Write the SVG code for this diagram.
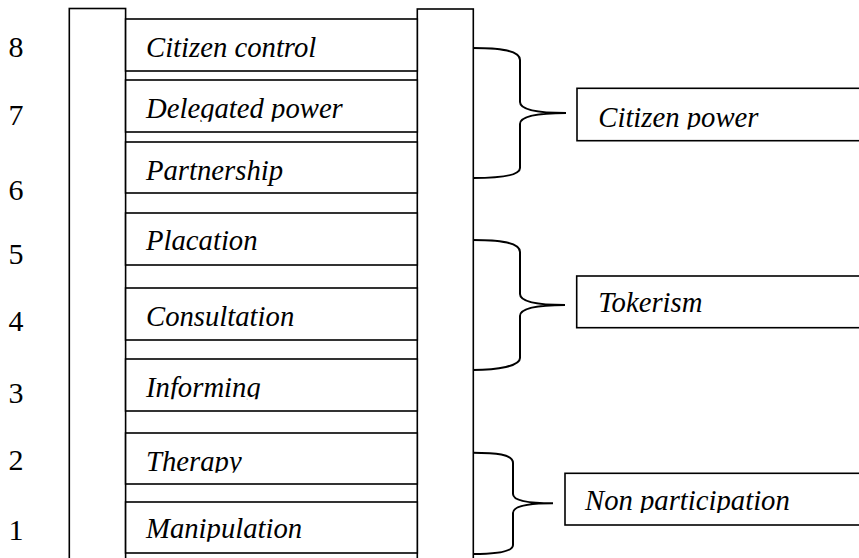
<svg xmlns="http://www.w3.org/2000/svg" width="859" height="558" viewBox="0 0 859 558">
<style>
  .ln { fill: #fff; stroke: #000; stroke-width: 1.6; }
  .brace { fill: none; stroke: #000; stroke-width: 2; }
  .lbl { font-family: "Liberation Serif", "Times New Roman", serif; font-style: italic; font-size: 28.7px; fill: #000; }
  .num { font-family: "Liberation Serif", "Times New Roman", serif; font-size: 30px; fill: #000; }
</style>
<defs>
  <clipPath id="cDel"><rect x="0" y="0" width="859" height="121.7"/></clipPath>
  <clipPath id="cInf"><rect x="0" y="0" width="859" height="399.3"/></clipPath>
  <clipPath id="cThe"><rect x="0" y="0" width="859" height="472.7"/></clipPath>
  <clipPath id="cMan"><rect x="0" y="0" width="859" height="541.7"/></clipPath>
  <clipPath id="cCp"><rect x="0" y="0" width="859" height="129.5"/></clipPath>
  <clipPath id="cNp"><rect x="0" y="0" width="859" height="513"/></clipPath>
</defs>
<rect width="859" height="558" fill="#fff"/>

<g id="numbers">
  <text class="num" x="8.5" y="57">8</text>
  <text class="num" x="8.5" y="125">7</text>
  <text class="num" x="8.5" y="200">6</text>
  <text class="num" x="8.5" y="264">5</text>
  <text class="num" x="8.5" y="331">4</text>
  <text class="num" x="8.5" y="403">3</text>
  <text class="num" x="8.5" y="470">2</text>
  <text class="num" x="8.5" y="540">1</text>
</g>

<g id="rail-left"><rect class="ln" x="69.3" y="8.5" width="56.3" height="570"/></g>
<g id="rail-right"><rect class="ln" x="417.3" y="9" width="56" height="570"/></g>

<g id="rung-8"><rect class="ln" x="125.6" y="19" width="291.7" height="52"/><text class="lbl" x="146" y="57">Citizen control</text></g>
<g id="rung-7"><rect class="ln" x="125.6" y="80" width="291.7" height="52"/><text class="lbl" x="146" y="118" clip-path="url(#cDel)">Delegated power</text></g>
<g id="rung-6"><rect class="ln" x="125.6" y="142" width="291.7" height="51"/><text class="lbl" x="146" y="180">Partnership</text></g>
<g id="rung-5"><rect class="ln" x="125.6" y="213" width="291.7" height="52"/><text class="lbl" x="146" y="250">Placation</text></g>
<g id="rung-4"><rect class="ln" x="125.6" y="288" width="291.7" height="52"/><text class="lbl" x="146" y="325.7">Consultation</text></g>
<g id="rung-3"><rect class="ln" x="125.6" y="359" width="291.7" height="52"/><text class="lbl" x="146" y="396.7" clip-path="url(#cInf)">Informing</text></g>
<g id="rung-2"><rect class="ln" x="125.6" y="433" width="291.7" height="51"/><text class="lbl" x="146" y="470.7" clip-path="url(#cThe)">Therapy</text></g>
<g id="rung-1"><rect class="ln" x="125.6" y="502" width="291.7" height="51"/><text class="lbl" x="146" y="538.3" clip-path="url(#cMan)">Manipulation</text></g>

<g id="connectors">
  <path class="brace" d="M473,48 C498,48 520,50 520,60 L520,102 C520,110 538,113 566,113 C538,113 520,116 520,124 L520,168 C520,176 498,178 473,178"/>
  <path class="brace" d="M473,240 C498,240 520,242 520,252 L520,294 C520,302 538,305 565,305 C538,305 520,308 520,316 L520,358 C520,366 498,370 473,370"/>
  <path class="brace" d="M473,452.7 C495,452.7 513,454 513,463 L513,494 C513,501 530,503.3 553,503.3 C530,503.3 513,506 513,513 L513,545 C513,552 495,554 473,554"/>
</g>

<g id="group-citizen-power"><rect class="ln" x="577" y="88.3" width="300" height="52.4"/><text class="lbl" x="598.3" y="126.7" clip-path="url(#cCp)">Citizen power</text></g>
<g id="group-tokerism"><rect class="ln" x="576.7" y="276" width="300" height="51.7"/><text class="lbl" x="598.3" y="311.7">Tokerism</text></g>
<g id="group-non-participation"><rect class="ln" x="565" y="473.3" width="310" height="51.7"/><text class="lbl" x="585" y="510" clip-path="url(#cNp)">Non participation</text></g>
</svg>
